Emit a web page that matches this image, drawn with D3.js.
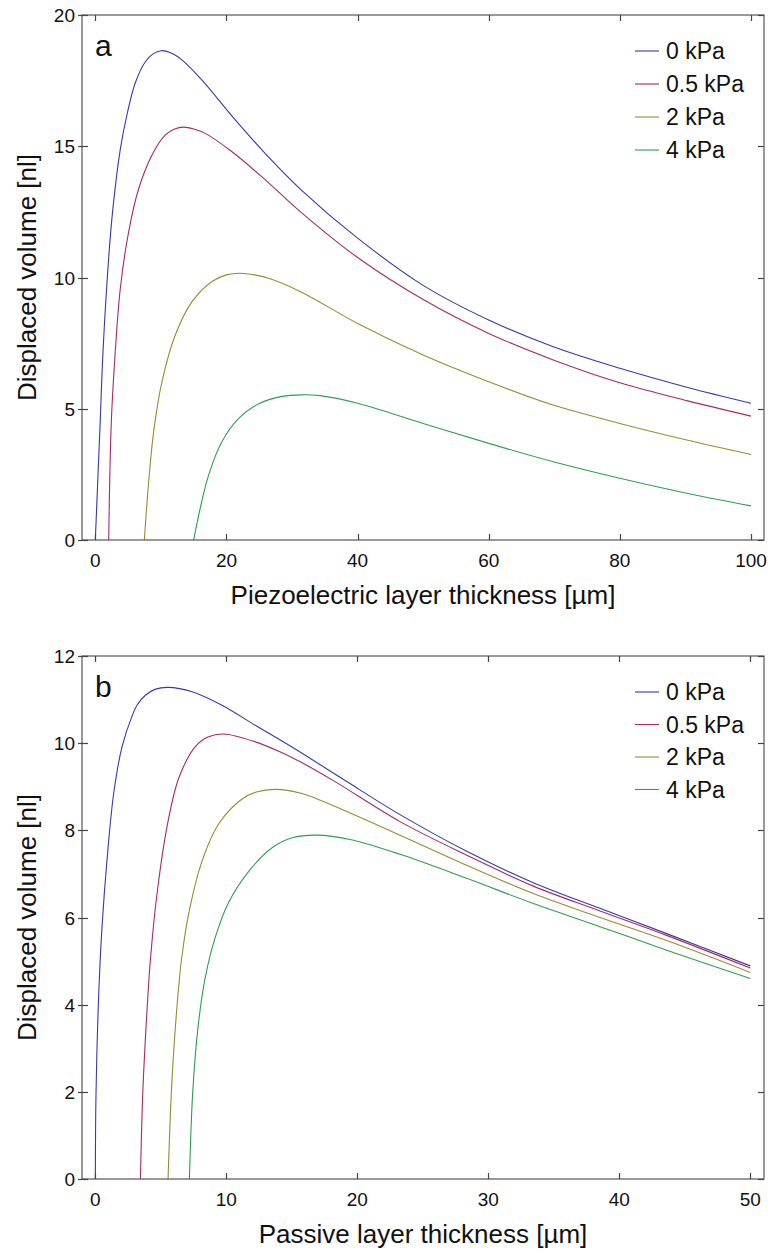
<!DOCTYPE html>
<html lang="en">
<head>
<meta charset="UTF-8">
<title>Displaced volume vs layer thickness</title>
<script src="https://d3js.org/d3.v7.min.js"></script>
<style>
  body { margin: 0; background: #fff; }
  svg { display: block; font-family: "Liberation Sans", Arial, sans-serif; }
  .tick-label { font-size: 19px; fill: #111; }
  .axis-title { font-size: 26px; fill: #111; }
  .legend-text { font-size: 23px; fill: #111; }
  .panel-letter { font-size: 30px; fill: #111; }
  .frame { fill: none; stroke: #555; stroke-width: 1.2px; }
  .tick { stroke: #444; stroke-width: 1.2px; }
  .curve { fill: none; stroke-width: 1.1px; }
</style>
</head>
<body>
<div id="chart"></div>
<script>
// series names and colours
const pressures = ["0 kPa", "0.5 kPa", "2 kPa", "4 kPa"];
const colors = ["#3838aa", "#a82a66", "#9a8a30", "#2f9e50"];

// panel a: piezoelectric layer thickness [µm] -> displaced volume [nl]
const a0 = [[0,0],[0.76,4.6],[1.12,6.9],[1.78,9.8],[2.55,12.3],[3.82,14.9],[4.83,16.2],[6.1,17.42],[7.63,18.22],[8.8,18.52],[10.07,18.64],[11.5,18.56],[13.2,18.29],[16.27,17.52],[20.85,16.15],[25.93,14.72],[31.3,13.36],[40,11.5],[50,9.7],[60,8.38],[69.85,7.36],[80,6.54],[90.2,5.82],[100,5.21]];
const a05 = [[2.04,0],[2.44,4.5],[3.05,7.2],[3.82,9.6],[5.09,11.75],[6.61,13.38],[8.65,14.67],[10.68,15.43],[12.1,15.66],[13.48,15.73],[15.0,15.66],[16.78,15.49],[20.85,14.79],[25.93,13.72],[31.3,12.5],[40,10.76],[50,9.16],[60,7.87],[69.85,6.86],[80,5.99],[90.2,5.31],[100,4.72]];
const a2 = [[7.48,0],[8.14,2.22],[8.9,4.13],[10.17,6.03],[12.2,7.81],[14.75,9.08],[17.8,9.85],[20.0,10.1],[22.1,10.16],[24.3,10.1],[26.44,9.97],[31.3,9.46],[40,8.25],[50,7.05],[60,6.03],[69.85,5.14],[80,4.44],[90.2,3.81],[100,3.26]];
const a4 = [[15.0,0],[16.0,1.21],[17.29,2.48],[19.32,3.75],[21.87,4.63],[24.92,5.19],[28.47,5.47],[31.5,5.53],[34.27,5.5],[40,5.21],[50,4.44],[60,3.68],[69.85,2.98],[80,2.35],[90.2,1.78],[100,1.3]];

// panel b: passive layer thickness [µm] -> displaced volume [nl]
const b0 = [[0,0],[0.05,1.97],[0.26,4.26],[0.51,5.79],[0.89,7.32],[1.4,8.85],[2.04,9.92],[2.8,10.62],[3.2,10.88],[3.82,11.1],[4.6,11.24],[5.55,11.28],[7.38,11.18],[9.67,10.87],[12.21,10.41],[14.25,10.05],[15.78,9.77],[19.19,9.12],[23.26,8.36],[28.35,7.52],[33.44,6.8],[38.53,6.21],[43.62,5.63],[50,4.89]];
const b05 = [[3.44,0],[3.62,1.97],[3.87,3.49],[4.2,5.02],[4.71,6.55],[5.47,8.08],[6.37,9.2],[7.63,9.92],[8.6,10.14],[9.8,10.21],[12.21,10.03],[14.25,9.78],[15.78,9.55],[18.17,9.14],[23.26,8.2],[28.35,7.43],[33.44,6.72],[38.53,6.15],[43.62,5.59],[50,4.84]];
const b2 = [[5.55,0],[5.8,1.97],[6.11,3.49],[6.57,5.02],[7.18,6.17],[8.15,7.3],[9.42,8.15],[11.2,8.72],[12.3,8.88],[13.74,8.94],[15.7,8.85],[19.44,8.4],[23.26,7.89],[28.35,7.2],[33.44,6.55],[38.53,6.0],[43.62,5.47],[50,4.74]];
const b4 = [[7.18,0],[7.43,1.97],[7.84,3.49],[8.4,4.64],[9.16,5.55],[10.18,6.35],[11.71,7.06],[13.49,7.6],[15.02,7.83],[16.9,7.89],[19.44,7.79],[23.26,7.45],[28.35,6.9],[33.44,6.32],[38.53,5.79],[43.62,5.25],[50,4.6]];

const aXTicks = [0, 20, 40, 60, 80, 100];
const aYTicks = [0, 5, 10, 15, 20];
const bXTicks = [0, 10, 20, 30, 40, 50];
const bYTicks = [0, 2, 4, 6, 8, 10, 12];

const W = 771, H = 1256;
const svg = d3.select("#chart").append("svg").attr("width", W).attr("height", H);

function drawPanel(opt) {
  const x = d3.scaleLinear().domain(opt.xDomain).range([82, 764]);
  const y = d3.scaleLinear().domain(opt.yDomain).range([opt.bottom, opt.top]);
  const g = svg.append("g");
  const tl = 6;

  const clipId = "clip-" + opt.letter;
  g.append("clipPath").attr("id", clipId).append("rect")
    .attr("x", 82).attr("y", opt.top).attr("width", 682).attr("height", opt.bottom - opt.top);

  // curves
  const line = d3.line().x(d => x(d[0])).y(d => y(d[1])).curve(d3.curveCatmullRom.alpha(0.5));
  g.append("g").attr("clip-path", `url(#${clipId})`)
    .selectAll("path").data(opt.series).enter().append("path")
    .attr("class", "curve")
    .attr("stroke", (d, i) => colors[i])
    .attr("d", d => line(d));

  // frame
  g.append("rect").attr("class", "frame")
    .attr("x", 82).attr("y", opt.top).attr("width", 682).attr("height", opt.bottom - opt.top);

  // x ticks (bottom and top, inward)
  opt.xTicks.forEach(t => {
    const px = Math.round(x(t)) + 0.5;
    g.append("line").attr("class", "tick").attr("x1", px).attr("x2", px)
      .attr("y1", opt.bottom).attr("y2", opt.bottom - tl);
    g.append("line").attr("class", "tick").attr("x1", px).attr("x2", px)
      .attr("y1", opt.top).attr("y2", opt.top + tl);
    g.append("text").attr("class", "tick-label")
      .attr("x", x(t)).attr("y", opt.bottom + 27)
      .attr("text-anchor", "middle").text(t);
  });

  // y ticks (left crossing the axis, right inward)
  opt.yTicks.forEach(t => {
    const py = Math.round(y(t)) + 0.5;
    g.append("line").attr("class", "tick").attr("x1", 78).attr("x2", 82 + tl)
      .attr("y1", py).attr("y2", py);
    g.append("line").attr("class", "tick").attr("x1", 764).attr("x2", 764 - tl)
      .attr("y1", py).attr("y2", py);
    g.append("text").attr("class", "tick-label")
      .attr("x", 75).attr("y", y(t) + 7)
      .attr("text-anchor", "end").text(t);
  });

  // axis titles
  g.append("text").attr("class", "axis-title")
    .attr("x", 423).attr("y", opt.bottom + 64)
    .attr("text-anchor", "middle").text(opt.xTitle);
  g.append("text").attr("class", "axis-title")
    .attr("transform", `translate(36,${(opt.top + opt.bottom) / 2}) rotate(-90)`)
    .attr("text-anchor", "middle").text("Displaced volume [nl]");

  // panel letter
  g.append("text").attr("class", "panel-letter")
    .attr("x", 95).attr("y", opt.top + 41).text(opt.letter);

  // legend
  const leg = g.append("g");
  pressures.forEach((p, i) => {
    const ly = opt.legendTop + i * opt.legendStep;
    leg.append("line").attr("x1", 635).attr("x2", 659)
      .attr("y1", ly).attr("y2", ly)
      .attr("stroke", colors[i]).attr("stroke-width", 1.1);
    leg.append("text").attr("class", "legend-text")
      .attr("x", 666).attr("y", ly + 8).text(p);
  });
}

drawPanel({
  letter: "a", top: 15, bottom: 540,
  xDomain: [-2.03, 101.98], yDomain: [0, 20],
  xTicks: aXTicks, yTicks: aYTicks,
  series: [a0, a05, a2, a4],
  xTitle: "Piezoelectric layer thickness [µm]",
  legendTop: 51, legendStep: 33
});

drawPanel({
  letter: "b", top: 656, bottom: 1179,
  xDomain: [-1.02, 51.05], yDomain: [0, 12],
  xTicks: bXTicks, yTicks: bYTicks,
  series: [b0, b05, b2, b4],
  xTitle: "Passive layer thickness [µm]",
  legendTop: 692, legendStep: 32.5
});
</script>
</body>
</html>
